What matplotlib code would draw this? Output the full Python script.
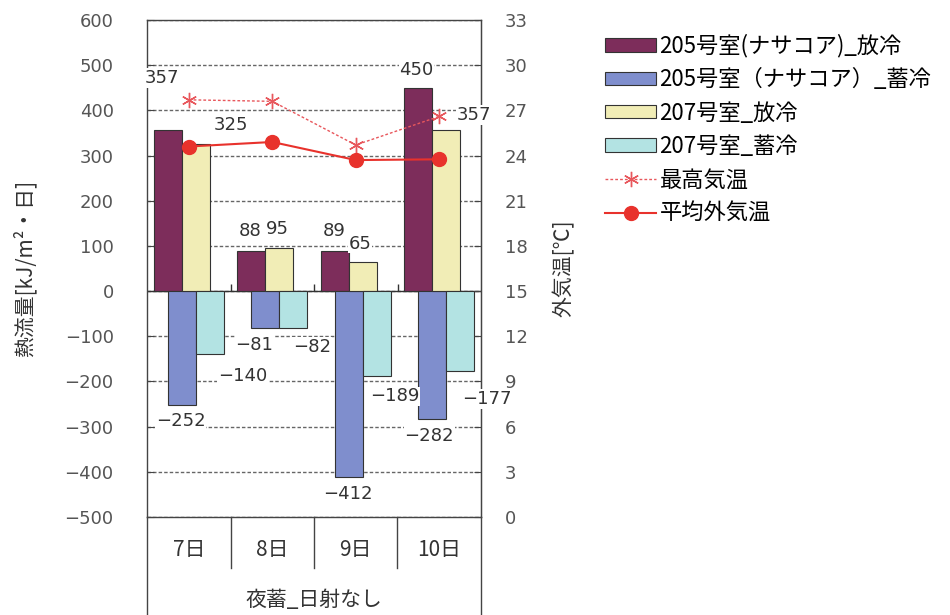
import matplotlib
import matplotlib.pyplot as plt
import numpy as np

matplotlib.use("Agg")

days = ["7日", "8日", "9日", "10日"]
group_label = "夜蓄_日射なし"
series_names = [
    "205号室(ナサコア)_放冷",
    "205号室（ナサコア）_蓄冷",
    "207号室_放冷",
    "207号室_蓄冷",
]
r205_release = [357, 88, 89, 450]
r205_store = [-252, -81, -412, -282]
r207_release = [325, 95, 65, 357]
r207_store = [-140, -82, -189, -177]
max_temp = [27.7, 27.6, 24.7, 26.6]
mean_temp = [24.6, 24.9, 23.7, 23.75]
line_names = ["最高気温", "平均外気温"]

colors = ["#7d2d5b", "#7f8ecd", "#f1edb6", "#b3e3e3"]
bar_offsets = [-0.25, -0.0833, 0.0833, 0.25]
# label offsets in pixels (dx, dy downward) from each bar end
label_offsets = [
    [(-6, -52), (-1, -20), (-1, -20), (-2, -18)],
    [(-1, 16), (-11, 17), (-1, 17), (-3, 17)],
    [(35, -19), (-2, -19), (-3, -18), (28, -15)],
    [(33, 22), (19, 19), (18, 20), (27, 28)],
]

plt.rcParams["font.family"] = ["Noto Sans CJK JP", "DejaVu Sans"]
num_font = ["DejaVu Sans", "Noto Sans CJK JP"]

fig = plt.figure(figsize=(9.5, 6.15), dpi=100)
ax = fig.add_axes([147 / 950, 98 / 615, 334 / 950, 497 / 615])
ax2 = ax.twinx()

x = np.arange(len(days))
all_series = [r205_release, r205_store, r207_release, r207_store]
bars = []
for vals, off, col, name in zip(all_series, bar_offsets, colors, series_names):
    b = ax.bar(x + off, vals, width=0.333, color=col, edgecolor="#333333",
               linewidth=0.8, label=name, zorder=3)
    bars.append(b)

ax.set_xlim(-0.5, 3.5)
ax.set_ylim(-500, 600)
ax.set_yticks(np.arange(-500, 601, 100))
ax.set_yticklabels([f"{v}".replace("-", "−") for v in range(-500, 601, 100)],
                   family=num_font, fontsize=13, color="#555555")
ax.set_xticks([])
ax.tick_params(axis="y", direction="in", length=5, pad=24, color="#444444")
ax.grid(axis="y", linestyle=(0, (2.5, 1.5)), color="#666666", linewidth=1.0, zorder=1)
ax.axhline(0, color="#333333", linewidth=1.0, zorder=2)
ax.vlines([0.5, 1.5, 2.5], 0, 15, color="#333333", linewidth=1.0, zorder=2)
for s in ax.spines.values():
    s.set_color("#444444")
    s.set_linewidth(1.0)

ax.set_ylabel("熱流量[kJ/m²・日]", fontsize=15, color="#333333")
ax.yaxis.set_label_coords(-0.33, 0.5)

ax2.set_ylim(0, 33)
ax2.set_yticks(np.arange(0, 34, 3))
ax2.set_yticklabels([str(v) for v in range(0, 34, 3)], family=num_font,
                    fontsize=13, color="#555555")
ax2.tick_params(axis="y", direction="in", length=5, pad=17, color="#444444")
for k in ["left", "top", "bottom"]:
    ax2.spines[k].set_visible(False)
ax2.spines["right"].set_color("#444444")
ax2.set_ylabel("外気温[℃]", fontsize=15, color="#333333", rotation=90)
ax2.yaxis.set_label_coords(1.215, 0.5)

l1, = ax2.plot(x, max_temp, color="#e8575c", linestyle=(0, (2, 1.5)), linewidth=1.0,
               marker=(6, 2, 0), markersize=11, markeredgewidth=1.0, label=line_names[0], zorder=4)
l2, = ax2.plot(x, mean_temp, color="#e8322c", linewidth=1.5, marker="o",
               markersize=10, label=line_names[1], zorder=4)

# data labels
for k, (vals, off) in enumerate(zip(all_series, bar_offsets)):
    for i, v in enumerate(vals):
        dx, dy = label_offsets[k][i]
        ax2.annotate(str(v).replace("-", "−"), xy=(x[i] + off, v), xycoords=ax.transData,
                     xytext=(dx * 0.72, -dy * 0.72), textcoords="offset points",
                     ha="center", va="center", family=num_font, fontsize=13,
                     color="#333333", zorder=6, annotation_clip=False,
                     bbox=dict(facecolor="white", edgecolor="none", pad=0.5))

# multi-level category axis below plot
kw = dict(transform=ax.transAxes, clip_on=False, color="#444444", linewidth=1.0)
ax.plot([0, 0], [0, -0.2], **kw)
ax.plot([1, 1], [0, -0.2], **kw)
for xs in [0.25, 0.5, 0.75]:
    ax.plot([xs, xs], [0, -0.103], **kw)
for i, d in enumerate(days):
    ax.text((i + 0.5) / 4, -0.066, d, transform=ax.transAxes, ha="center",
            va="center", fontsize=15, color="#333333")
ax.text(0.5, -0.167, group_label, transform=ax.transAxes, ha="center",
        va="center", fontsize=15, color="#333333")

handles = bars + [l1, l2]
labels = series_names + line_names
fig.legend(handles, labels, loc="upper left", bbox_to_anchor=(605 / 950, 1 - 34 / 615),
           frameon=False, fontsize=16, handlelength=2.3, handleheight=0.55,
           handletextpad=0.15, labelspacing=0.47, borderaxespad=0, borderpad=0)

fig.savefig("out.png", dpi=100)
